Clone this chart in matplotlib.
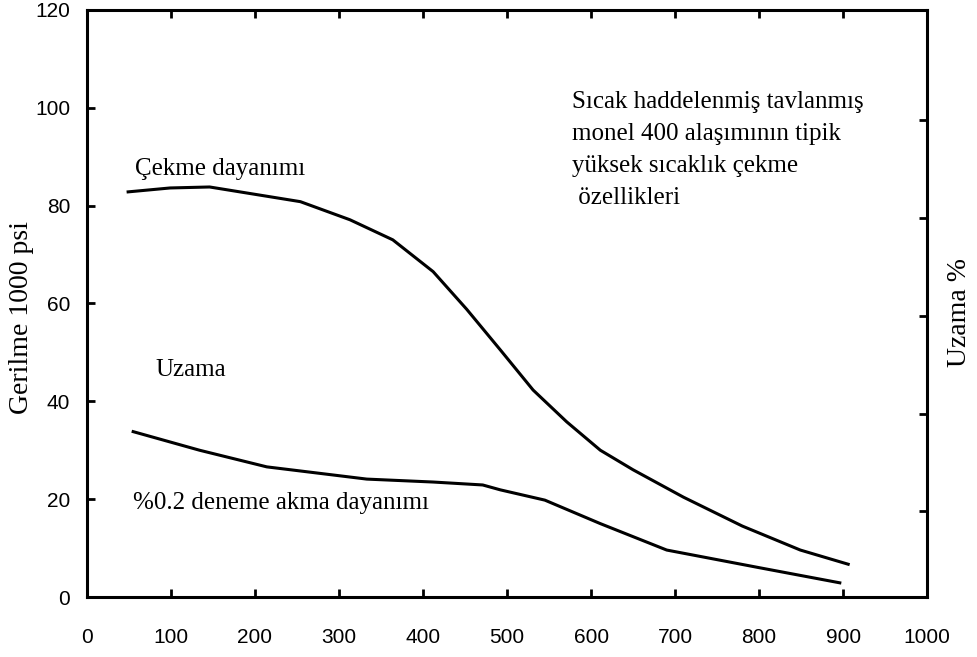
import matplotlib.pyplot as plt

# Temperature (F) vs. stress (1000 psi)
cekme_x = [49, 99, 146, 182, 254, 313, 364, 412, 452, 492, 531, 571, 611, 650, 710, 780, 849, 906]
cekme_y = [82.8, 83.6, 83.8, 82.8, 80.8, 77.1, 73.0, 66.5, 58.8, 50.5, 42.3, 35.8, 30.0, 26.0, 20.4, 14.5, 9.6, 6.7]

akma_x = [55, 134, 214, 333, 412, 471, 492, 545, 611, 690, 800, 896]
akma_y = [33.8, 30.0, 26.6, 24.1, 23.5, 22.9, 21.9, 19.8, 15.0, 9.6, 6.0, 2.9]

x_ticks = [0, 100, 200, 300, 400, 500, 600, 700, 800, 900, 1000]
y_ticks = [0, 20, 40, 60, 80, 100, 120]
right_ticks = [17.5, 37.5, 57.5, 77.5, 97.5]

serif = ["Liberation Serif", "DejaVu Serif"]
sans = ["Liberation Sans", "DejaVu Sans"]

fig = plt.figure(figsize=(9.77, 6.57), dpi=100)
ax = fig.add_axes([0.089, 0.0913, 0.86, 0.8937])

ax.plot(cekme_x, cekme_y, color="black", lw=2.2, solid_joinstyle="round")
ax.plot(akma_x, akma_y, color="black", lw=2.2, solid_joinstyle="round")

ax.set_xlim(0, 1000)
ax.set_ylim(0, 120)
for s in ax.spines.values():
    s.set_linewidth(2.2)

ax.set_xticks(x_ticks)
ax.set_yticks(y_ticks)
ax.set_xticklabels([str(t) for t in x_ticks], family=sans, fontsize=15)
ax.set_yticklabels([str(t) for t in y_ticks], family=sans, fontsize=15)
ax.tick_params(axis="both", direction="in", length=6, width=2, color="black")
ax.tick_params(axis="x", pad=22, top=True)
ax.tick_params(axis="y", pad=12)

# right-hand axis: ticks only, no labels
ax2 = ax.twinx()
ax2.set_ylim(0, 120)
ax2.set_yticks(right_ticks)
ax2.set_yticklabels([])
ax2.tick_params(axis="y", direction="in", length=6, width=2)

ax.text(57, 87.5, "Çekme dayanımı", family=serif, fontsize=18, va="center")
ax.text(81, 46.4, "Uzama", family=serif, fontsize=18, va="center")
ax.text(55, 19.2, "%0.2 deneme akma dayanımı", family=serif, fontsize=18, va="center")
ax.text(577, 103.5,
        "Sıcak haddelenmiş tavlanmış\nmonel 400 alaşımının tipik\nyüksek sıcaklık çekme\n özellikleri",
        family=serif, fontsize=18, va="top", linespacing=1.6)

fig.text(0.022, 0.516, "Gerilme 1000 psi", family=serif, fontsize=20,
         rotation=90, ha="center", va="center")
fig.text(0.982, 0.524, "Uzama %", family=serif, fontsize=20,
         rotation=90, ha="center", va="center")

fig.savefig("out.png", dpi=100)
